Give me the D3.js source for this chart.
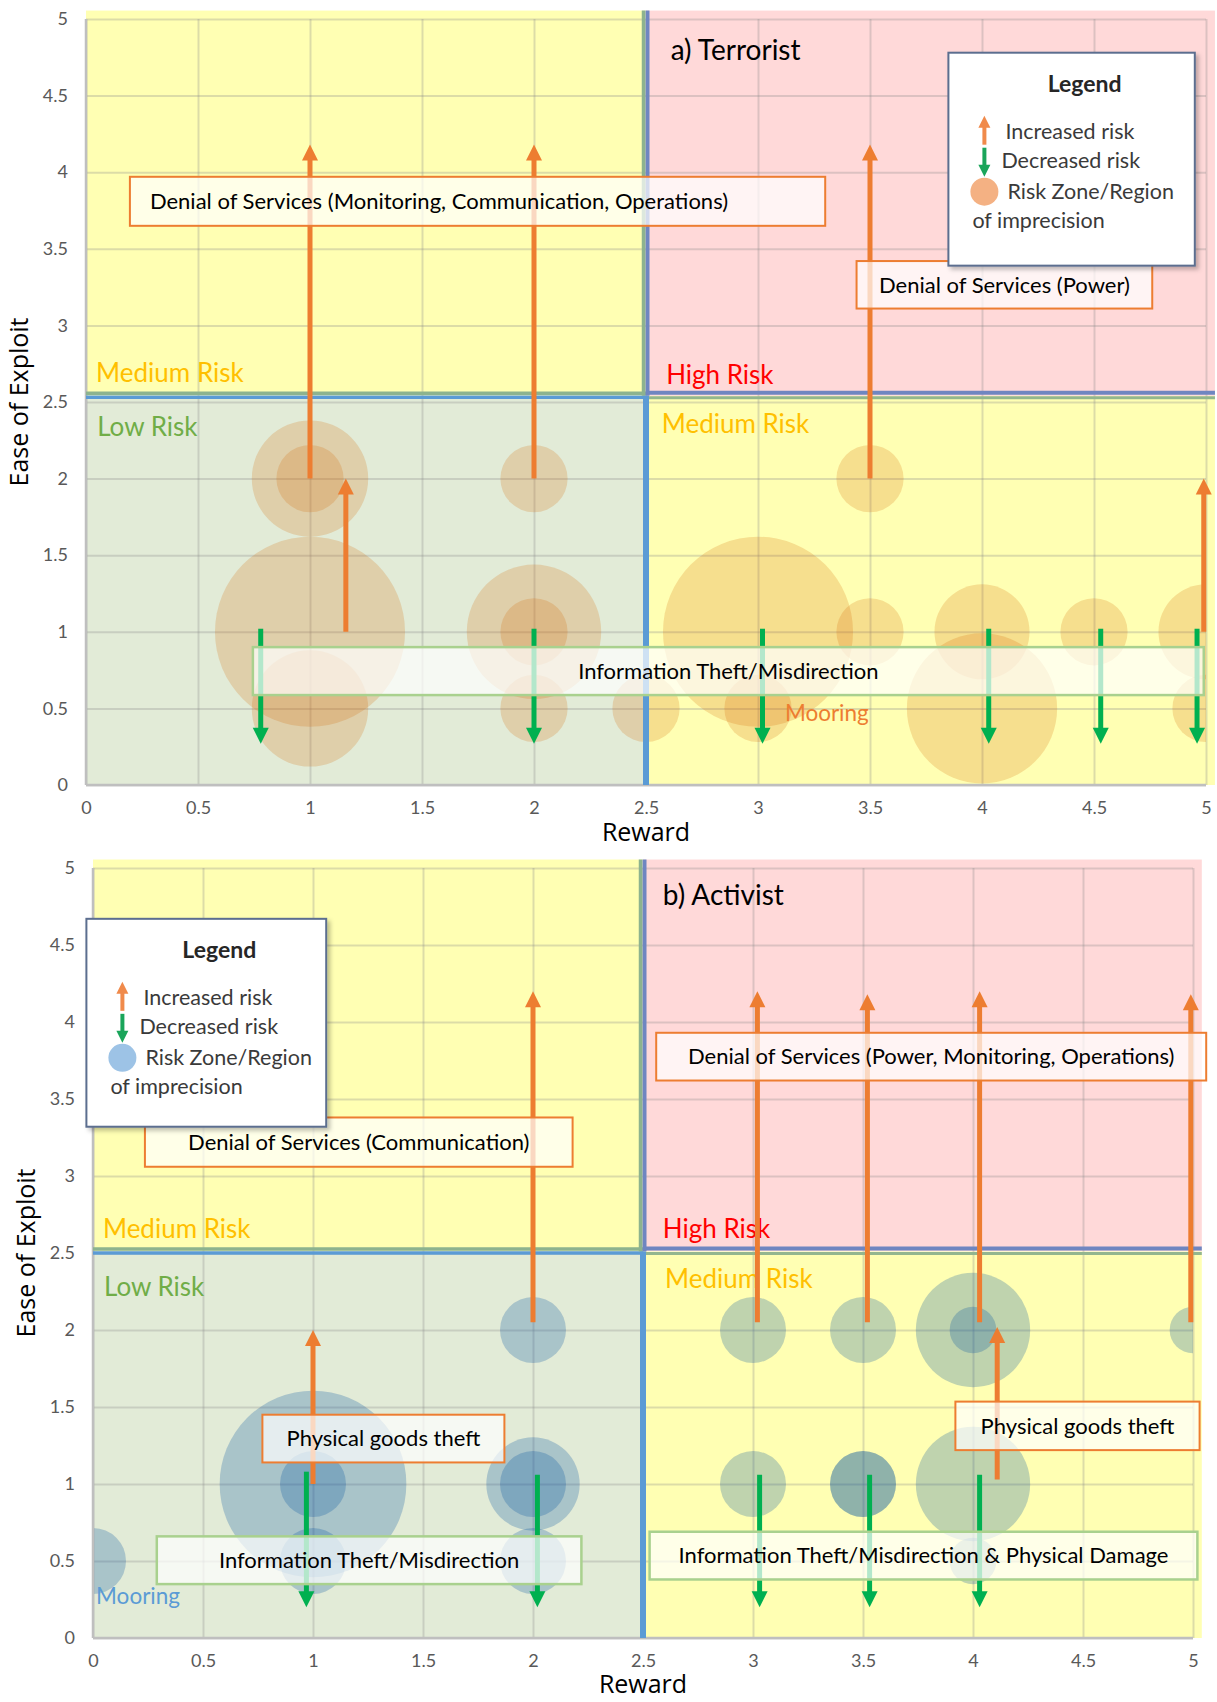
<!DOCTYPE html>
<html>
<head>
<meta charset="utf-8">
<script src="https://cdn.jsdelivr.net/npm/d3@7"></script>
<style>
body { margin: 0; background: #fff; }
svg { display: block; font-family: Lato, "Noto Sans", sans-serif; }
</style>
</head>
<body>
<script>
var W = 1217, H = 1702;

// tick values, shared by both panels
var ticks = [0, 0.5, 1, 1.5, 2, 2.5, 3, 3.5, 4, 4.5, 5];

// bubbles: [reward, ease, size]
var terrorBubbles = [
	[1, 2, 3], [1, 2, 1], [2, 2, 1], [1, 1, 8], [1, 0.5, 3], [2, 1, 4], [2, 1, 1],
	[2, 0.5, 1], [2.5, 0.5, 1], [3, 1, 8], [3, 0.5, 1], [3.5, 2, 1], [3.5, 1, 1],
	[4, 1, 2], [4, 0.5, 5], [4.5, 1, 1], [5, 1, 2], [5, 0.5, 1]
];
var activistBubbles = [
	[0, 0.5, 1], [1, 1, 8], [1, 1, 1], [1, 0.5, 1], [2, 2, 1], [2, 1, 2], [2, 1, 1],
	[2, 0.5, 1], [3, 2, 1], [3.5, 2, 1], [4, 2, 3], [4, 2, 0.5], [5, 2, 0.5],
	[3, 1, 1], [3.5, 1, 1], [3.5, 1, 1], [4, 1, 3], [4, 0.5, 0.5]
];

// arrows: [reward, from ease, to ease]
var terrorUp = [[1, 2, 4.18], [2, 2, 4.18], [3.5, 2, 4.18], [1.16, 1, 2], [4.99, 1, 2]];
var terrorDown = [[0.78, 1.02, 0.27], [2, 1.02, 0.27], [3.02, 1.02, 0.27], [4.03, 1.02, 0.27], [4.53, 1.02, 0.27], [4.96, 1.02, 0.27]];
var activistUp = [[2, 2.05, 4.2], [1, 1, 2], [3.02, 2.05, 4.2], [3.52, 2.05, 4.18], [4.03, 2.05, 4.2], [4.99, 2.05, 4.18], [4.11, 1.03, 2.02]];
var activistDown = [[0.97, 1.08, 0.2], [2.02, 1.06, 0.2], [3.03, 1.06, 0.2], [3.53, 1.06, 0.2], [4.03, 1.06, 0.2]];

// annotation boxes: [text, x0, x1, y0, y1, kind]
var terrorBoxes = [
	["Denial of Services (Monitoring, Communication, Operations)", 0.196, 3.30, 3.65, 3.97, "dos"],
	["Denial of Services (Power)", 3.44, 4.76, 3.11, 3.42, "dos"],
	["Information Theft/Misdirection", 0.745, 4.99, 0.587, 0.9, "info"]
];
var activistBoxes = [
	["Denial of Services (Communication)", 0.236, 2.18, 3.06, 3.38, "dos"],
	["Denial of Services (Power, Monitoring, Operations)", 2.56, 5.06, 3.62, 3.93, "dos"],
	["Physical goods theft", 0.77, 1.87, 1.14, 1.45, "dos"],
	["Information Theft/Misdirection", 0.29, 2.22, 0.35, 0.66, "info"],
	["Physical goods theft", 3.92, 5.03, 1.22, 1.535, "dos"],
	["Information Theft/Misdirection & Physical Damage", 2.53, 5.02, 0.38, 0.69, "info"]
];

// region / free labels: [text, x, y, colour]
var terrorLabels = [
	["Medium Risk", 0.045, 2.63, "#FFC000"], ["High Risk", 2.59, 2.62, "#FF0000"],
	["Low Risk", 0.05, 2.28, "#70AD47"], ["Medium Risk", 2.57, 2.3, "#FFC000"],
	["Mooring", 3.12, 0.42, "#ED7D31"]
];
var activistLabels = [
	["Medium Risk", 0.045, 2.6, "#FFC000"], ["High Risk", 2.59, 2.6, "#FF0000"],
	["Low Risk", 0.05, 2.22, "#70AD47"], ["Medium Risk", 2.6, 2.27, "#FFC000"],
	["Mooring", 0.014, 0.22, "#5B9BD5"]
];

var legendItems = ["Increased risk", "Decreased risk", "Risk Zone/Region", "of imprecision"];

var panels = [
	{ title: "a) Terrorist", titleAt: [2.61, 4.73], bubbles: terrorBubbles, up: terrorUp, down: terrorDown,
	  boxes: terrorBoxes, labels: terrorLabels, legend: [3.85, 4.95, 3.39, 4.78], splitY: 2.54,
	  bubbleFill: "#D46A05", bubbleOpacity: 0.21, dot: "#F4B183", firstBoxLeft: true,
	  left: 86, right: 1206, top: 19, bottom: 785, titleGap: 56 },
	{ title: "b) Activist", titleAt: [2.59, 4.76], bubbles: activistBubbles, up: activistUp, down: activistDown,
	  boxes: activistBoxes, labels: activistLabels, legend: [-0.03, 1.06, 3.32, 4.67], splitY: 2.51,
	  bubbleFill: "#00519E", bubbleOpacity: 0.25, dot: "#9DC3E6", firstBoxLeft: false,
	  left: 93, right: 1193, top: 868, bottom: 1638, titleGap: 55 }
];

var Orange = "#ED7D31", Green = "#00B050";

var svg = d3.select("body").append("svg")
	.attr("width", W)
	.attr("height", H)
	.attr("viewBox", "0 0 " + W + " " + H);

var defs = svg.append("defs");
var shadow = defs.append("filter").attr("id", "shadow").attr("x", "-10%").attr("y", "-10%").attr("width", "130%").attr("height", "130%");
shadow.append("feDropShadow").attr("dx", 3).attr("dy", 3).attr("stdDeviation", 2).attr("flood-color", "#000").attr("flood-opacity", 0.25);

function arrow(g, x, y, d, color, headLen, headHalf, width) {
	var x0 = x(d[0]), y0 = y(d[1]), y1 = y(d[2]);
	var dir = y1 < y0 ? 1 : -1;
	g.append("line")
		.attr("x1", x0).attr("x2", x0)
		.attr("y1", y0).attr("y2", y1 + dir * (headLen - 1))
		.attr("stroke", color).attr("stroke-width", width);
	g.append("path")
		.attr("d", "M" + x0 + "," + y1 + "L" + (x0 - headHalf) + "," + (y1 + dir * headLen) + "L" + (x0 + headHalf) + "," + (y1 + dir * headLen) + "Z")
		.attr("fill", color);
}

function drawPanel(p, idx) {
	var x = d3.scaleLinear().domain([0, 5]).range([p.left, p.right]);
	var y = d3.scaleLinear().domain([0, 5]).range([p.bottom, p.top]);
	var r = d3.scaleSqrt().domain([0, 1]).range([0, x(0.15) - x(0)]);
	var g = svg.append("g");
	var sx = 2.5, sy = p.splitY;

	// quadrants
	var regions = [
		[0, sx, sy, 5.055, "#FFFFB3"],
		[sx, 5.04, sy, 5.055, "#FFD9D9"],
		[0, sx, 0, sy, "#E2EBD7"],
		[sx, 5.04, 0, sy, "#FFFFB3"]
	];
	g.selectAll(".region").data(regions).join("rect")
		.attr("x", d => x(d[0]))
		.attr("y", d => y(d[3]))
		.attr("width", d => x(d[1]) - x(d[0]))
		.attr("height", d => y(d[2]) - y(d[3]))
		.attr("fill", d => d[4]);

	// gridlines
	g.append("g")
		.attr("transform", "translate(0," + p.bottom + ")")
		.call(d3.axisBottom(x).tickValues(ticks).tickSize(-(p.bottom - p.top)).tickFormat(""))
		.call(a => a.select(".domain").remove())
		.selectAll("line").attr("stroke", "#8a8a8a").attr("stroke-opacity", 0.3).attr("stroke-width", 2);
	g.append("g")
		.attr("transform", "translate(" + p.left + ",0)")
		.call(d3.axisLeft(y).tickValues(ticks).tickSize(-(p.right - p.left)).tickFormat(""))
		.call(a => a.select(".domain").remove())
		.selectAll("line").attr("stroke", "#8a8a8a").attr("stroke-opacity", 0.3).attr("stroke-width", 2);

	// bubbles, clipped to plot area
	var clipId = "clip" + idx;
	defs.append("clipPath").attr("id", clipId).append("rect")
		.attr("x", p.left).attr("y", p.top - 12)
		.attr("width", p.right - p.left).attr("height", p.bottom - p.top + 12);
	g.append("g").attr("clip-path", "url(#" + clipId + ")")
		.selectAll("circle").data(p.bubbles).join("circle")
		.attr("cx", d => x(d[0]))
		.attr("cy", d => y(d[1]))
		.attr("r", d => r(d[2]))
		.attr("fill", p.bubbleFill)
		.attr("fill-opacity", p.bubbleOpacity);

	// axis lines
	g.append("line").attr("x1", p.left).attr("x2", p.right).attr("y1", p.bottom).attr("y2", p.bottom)
		.attr("stroke", "#BFBFBF").attr("stroke-width", 2.5);
	g.append("line").attr("x1", p.left).attr("x2", p.left).attr("y1", p.bottom).attr("y2", p.top)
		.attr("stroke", "#BFBFBF").attr("stroke-width", 2.5);

	// quadrant borders
	var bx = x(sx), by = y(sy);
	var borders = [
		[x(0), by - 2.5, bx, by - 2.5, "#8DB38E", 3.5],
		[x(0), by + 1.5, bx, by + 1.5, "#5B9BD5", 3.5],
		[bx, by - 3, x(5.04), by - 3, "#6F86C1", 4],
		[bx, by + 2, x(5.04), by + 2, "#93B68F", 3],
		[bx - 2.5, y(5.055), bx - 2.5, by, "#8DB38E", 3.5],
		[bx + 1.5, y(5.055), bx + 1.5, by, "#6F86C1", 4],
		[bx, by, bx, y(0), "#5B9BD5", 6]
	];
	g.selectAll(".border").data(borders).join("line")
		.attr("x1", d => d[0]).attr("y1", d => d[1])
		.attr("x2", d => d[2]).attr("y2", d => d[3])
		.attr("stroke", d => d[4]).attr("stroke-width", d => d[5]);

	// tick labels
	g.append("g")
		.attr("transform", "translate(0," + (p.bottom + 16) + ")")
		.call(d3.axisBottom(x).tickValues(ticks).tickSize(0).tickPadding(0).tickFormat(d3.format("~g")))
		.call(a => a.select(".domain").remove())
		.selectAll("text").attr("font-family", "Lato, sans-serif").attr("font-size", 18).attr("fill", "#595959");
	g.append("g")
		.attr("transform", "translate(" + (p.left - 18) + ",0)")
		.call(d3.axisLeft(y).tickValues(ticks).tickSize(0).tickPadding(0).tickFormat(d3.format("~g")))
		.call(a => a.select(".domain").remove())
		.selectAll("text").attr("font-family", "Lato, sans-serif").attr("font-size", 18).attr("fill", "#595959");

	// axis titles
	g.append("text")
		.attr("x", x(2.5)).attr("y", p.bottom + p.titleGap)
		.attr("text-anchor", "middle")
		.attr("font-family", "'Open Sans', sans-serif").attr("font-size", 25)
		.text("Reward");
	g.append("text")
		.attr("transform", "translate(" + (p.left - 58) + "," + y(2.5) + ") rotate(-90)")
		.attr("text-anchor", "middle")
		.attr("font-family", "'Open Sans', sans-serif").attr("font-size", 25)
		.text("Ease of Exploit");

	// region labels
	g.selectAll(".lab").data(p.labels).join("text")
		.attr("x", d => x(d[1])).attr("y", d => y(d[2]))
		.attr("fill", d => d[3])
		.attr("font-size", d => d[0] == "Mooring" ? 22.5 : 26)
		.text(d => d[0]);

	// arrows
	var ag = g.append("g");
	p.up.forEach(d => arrow(ag, x, y, d, Orange, 16, 8, 5));
	p.down.forEach(d => arrow(ag, x, y, d, Green, 16, 8, 5));

	// annotation boxes
	p.boxes.forEach(function(d, i) {
		var x0 = x(d[1]), x1 = x(d[2]), y0 = y(d[4]), y1 = y(d[3]);
		g.append("rect")
			.attr("x", x0).attr("y", y0)
			.attr("width", x1 - x0).attr("height", y1 - y0)
			.attr("fill", "#fff").attr("fill-opacity", 0.7)
			.attr("stroke", d[5] == "dos" ? Orange : "#A9D18E")
			.attr("stroke-width", d[5] == "dos" ? 2 : 2.5);
		var left = p.firstBoxLeft && i == 0;
		g.append("text")
			.attr("x", left ? x0 + 20 : (x0 + x1) / 2)
			.attr("y", (y0 + y1) / 2)
			.attr("dy", "0.35em")
			.attr("text-anchor", left ? "start" : "middle")
			.attr("font-size", 22)
			.attr("fill", "#000")
			.text(d[0]);
	});

	// title
	g.append("text")
		.attr("x", x(p.titleAt[0])).attr("y", y(p.titleAt[1]))
		.attr("font-size", 28)
		.text(p.title);

	// legend
	var lx0 = x(p.legend[0]), lx1 = x(p.legend[1]), ly0 = y(p.legend[3]), ly1 = y(p.legend[2]);
	var lg = g.append("g").attr("transform", "translate(" + lx0 + "," + ly0 + ")");
	lg.append("rect")
		.attr("width", lx1 - lx0).attr("height", ly1 - ly0)
		.attr("fill", "#fff")
		.attr("stroke", "#5B6E8F").attr("stroke-width", 2)
		.attr("filter", "url(#shadow)");
	lg.append("text")
		.attr("x", (lx1 - lx0) / 2 + 13).attr("y", 39)
		.attr("text-anchor", "middle")
		.attr("font-weight", "bold").attr("font-size", 23)
		.attr("fill", "#262626")
		.text("Legend");
	var ix = 36;
	arrow(lg, d3.scaleIdentity(), d3.scaleIdentity(), [ix, 92, 63], "#F08A4B", 12, 6, 4);
	arrow(lg, d3.scaleIdentity(), d3.scaleIdentity(), [ix, 95, 124], "#1AA55A", 12, 6, 4);
	lg.append("circle").attr("cx", ix).attr("cy", 139).attr("r", 14).attr("fill", p.dot);
	var itemPos = [[57, 86], [53, 115], [59, 146], [24, 175]];
	lg.selectAll(".item").data(legendItems).join("text")
		.attr("x", (d, i) => itemPos[i][0])
		.attr("y", (d, i) => itemPos[i][1])
		.attr("font-size", 21.5)
		.attr("fill", "#3a3a3a")
		.text(d => d);
}

panels.forEach(drawPanel);
</script>
</body>
</html>
